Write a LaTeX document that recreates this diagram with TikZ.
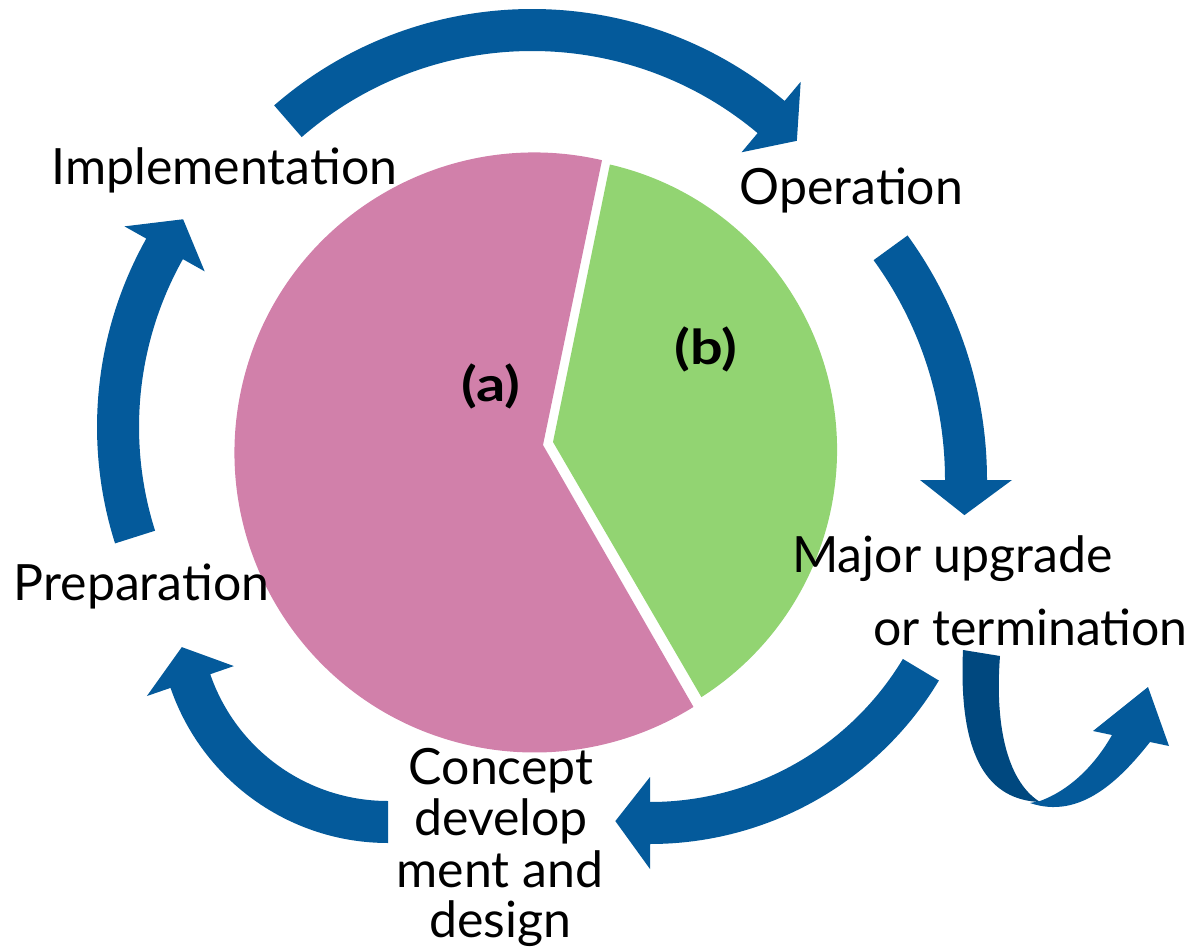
\documentclass[tikz,border=0pt]{standalone}
\usepackage{fontspec}
\setmainfont{Lato}
\definecolor{pinkslice}{RGB}{209,128,170}
\definecolor{greenslice}{RGB}{146,212,114}
\definecolor{arrowblue}{RGB}{4,90,155}
\definecolor{arrowdark}{RGB}{0,72,127}
% cx, cy, r, start angle, end angle, tip angle offset (y axis points down)
\newcommand\cyclearrow[6]{%
  \fill[arrowblue] ({#1+(#3+21)*cos(#4)},{#2+(#3+21)*sin(#4)})
    arc[start angle=#4, end angle=#5, radius=#3+21]
    -- ({#1+(#3+46)*cos(#5)},{#2+(#3+46)*sin(#5)})
    -- ({#1+#3*cos(#5+#6)},{#2+#3*sin(#5+#6)})
    -- ({#1+(#3-46)*cos(#5)},{#2+(#3-46)*sin(#5)})
    -- ({#1+(#3-21)*cos(#5)},{#2+(#3-21)*sin(#5)})
    arc[start angle=#5, end angle=#4, radius=#3-21] -- cycle;}
\begin{document}
\begin{tikzpicture}[x=1pt,y=-1pt,
  lbl/.style={font=\fontsize{50}{54}\selectfont, inner sep=0pt, anchor=base},
  slbl/.style={font=\fontsize{48}{52}\selectfont\bfseries, inner sep=0pt}]
\useasboundingbox (0,0) rectangle (1191,949);
% pie
\fill[pinkslice] (543,445) -- ({534.5+300*cos(-77)},{452.5+300*sin(-77)})
  arc[start angle=-77, end angle=-302, radius=300] -- cycle;
\fill[greenslice] (553,442) -- ({544+293*cos(-77)},{450+293*sin(-77)})
  arc[start angle=-77, end angle=57.5, radius=293] -- cycle;
\node[slbl] (a) at (491,386) {\scalebox{1.2}[1]{(a)}};
\node[slbl] (b) at (706,349) {\scalebox{1.2}[1]{(b)}};
% cycle arrows
\cyclearrow{532}{402}{372}{-131}{-50}{5.4}
\cyclearrow{571}{480}{395}{-36}{0}{5.1}
\cyclearrow{650}{507}{316}{31}{90}{6.3}
\cyclearrow{388}{613}{209}{90}{161}{9.6}
\cyclearrow{482}{427}{364}{162.4}{209.3}{5.5}
% u-turn arrow
\fill[arrowdark] (963,650) -- (1000,656) .. controls (995,720) and (1005,780) .. (1040,802)
  .. controls (990,800) and (958,760) .. (963,650) -- cycle;
\fill[arrowblue] (1030,803) .. controls (1080,820) and (1120,780) .. (1150,742)
  -- (1169,746) -- (1148,687) -- (1093,731) -- (1112,735)
  .. controls (1095,765) and (1070,790) .. (1040,801) -- cycle;
% labels
\node[lbl] (impl) at (224.5,185) {Implementation};
\node[lbl] (oper) at (851.5,205) {Operation};
\node[lbl] (major) at (952.5,572) {Major upgrade};
\node[lbl] (term) at (1030.5,645) {or termination};
\node[lbl] (prep) at (141.5,600) {Preparation};
\node[lbl] (c1) at (501,784) {Concept};
\node[lbl] (c2) at (501,835) {develop};
\node[lbl] (c3) at (500,887) {ment and};
\node[lbl] (c4) at (500,937) {design};
\end{tikzpicture}
\end{document}
